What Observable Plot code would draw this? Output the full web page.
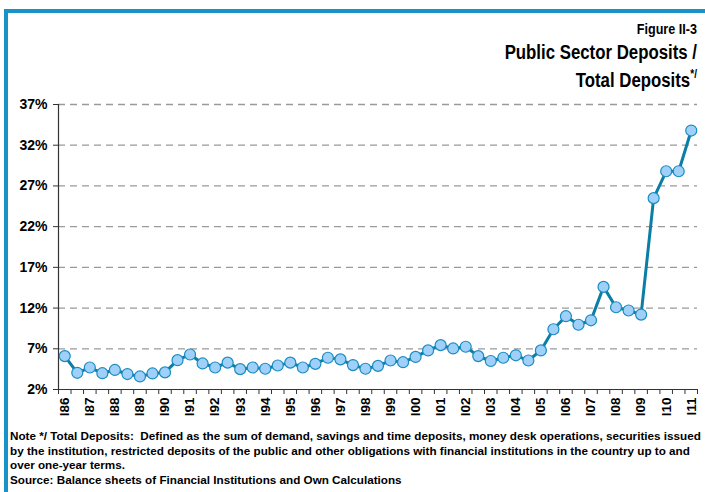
<!DOCTYPE html>
<html>
<head>
<meta charset="utf-8">
<script src="https://cdn.jsdelivr.net/npm/d3@7"></script>
<script src="https://cdn.jsdelivr.net/npm/@observablehq/plot@0.6"></script>
<style>
  html, body { margin: 0; padding: 0; background: #fff; }
  #page { position: relative; width: 705px; height: 492px; overflow: hidden; font-family: "Liberation Sans", Arial, sans-serif; color: #000; }
  #frame { position: absolute; left: 4px; top: 9px; width: 720px; height: 520px; border-top: 4px solid #1793c8; border-left: 4px solid #1793c8; box-sizing: border-box; }
  #title { position: absolute; right: 8px; top: 20px; text-align: right; font-family: "Liberation Sans", Arial, sans-serif; font-weight: bold; }
  #title div { transform: scaleX(0.84); transform-origin: right center; white-space: nowrap; }
  #title .fig { font-size: 15px; line-height: 18px; }
  #title .main { font-size: 20px; line-height: 28px; }
  #title sup { font-size: 12px; vertical-align: 0; position: relative; top: -9px; }
  #chart { position: absolute; left: 0; top: 95px; }
  #notes { position: absolute; left: 10px; top: 429px; font-size: 11.7px; font-weight: bold; line-height: 14.5px; white-space: pre; }
</style>
</head>
<body>
<div id="page">
  <div id="frame"></div>
  <div id="title">
    <div class="fig">Figure II-3</div>
    <div class="main">Public Sector Deposits /</div>
    <div class="main">Total Deposits<sup>*/</sup></div>
  </div>
  <div id="chart"></div>
  <div id="notes">Note */ Total Deposits:  Defined as the sum of demand, savings and time deposits, money desk operations, securities issued
by the institution, restricted deposits of the public and other obligations with financial institutions in the country up to and
over one-year terms.
Source: Balance sheets of Financial Institutions and Own Calculations</div>
</div>
<script>
// Semester periods: I86, II86, ..., I11
const years = ["86","87","88","89","90","91","92","93","94","95","96","97","98","99","00","01","02","03","04","05","06","07","08","09","10","11"];
const tickLabels = years.map(y => "I" + y);
// Public sector deposits / total deposits (%), one value per semester
const values = [
  6.1, 4.05,   // 86
  4.7, 4.0,    // 87
  4.4, 3.9,    // 88
  3.6, 3.97,   // 89
  4.1, 5.6,    // 90
  6.3, 5.2,    // 91
  4.7, 5.3,    // 92
  4.5, 4.7,    // 93
  4.55, 4.95,  // 94
  5.3, 4.7,    // 95
  5.15, 5.9,   // 96
  5.7, 5.0,    // 97
  4.55, 4.9,   // 98
  5.56, 5.35,  // 99
  6.0, 6.8,    // 00
  7.45, 7.04,  // 01
  7.25, 6.1,   // 02
  5.5, 5.9,    // 03
  6.2, 5.56,   // 04
  6.8, 9.4,    // 05
  11.0, 9.95,  // 06
  10.5, 14.6,  // 07
  12.1, 11.7,  // 08
  11.2, 25.5,  // 09
  28.8, 28.8,  // 10
  33.8         // 11
];
const yTicks = [2, 7, 12, 17, 22, 27, 32, 37];

const n = values.length;
const labelIdx = tickLabels.map((_, k) => 2 * k);
const boundaries = d3.range(n + 1).map(i => i - 0.5);

const plot = Plot.plot({
  width: 705,
  height: 335,
  marginLeft: 58,
  marginRight: 8,
  marginTop: 9,
  marginBottom: 41,
  style: { fontFamily: "'Liberation Sans', Arial, sans-serif", color: "#000", background: "transparent" },
  x: { type: "linear", domain: [-0.5, n - 0.5] },
  y: { domain: [2, 37] },
  marks: [
    Plot.gridY(yTicks.slice(1), { stroke: "#9a9a9a", strokeOpacity: 1, strokeWidth: 1.3, strokeDasharray: "7,5" }),
    Plot.axisY(yTicks, { tickSize: 5, tickPadding: 6, tickFormat: d => d + "%", fontSize: 14, fontWeight: "bold", label: null, stroke: "#333" }),
    Plot.axisX(boundaries, { tickSize: 5, tickFormat: () => "", label: null, stroke: "#333" }),
    Plot.axisX(labelIdx, { tickSize: 0, tickPadding: 8, tickRotate: -90, tickFormat: i => tickLabels[i / 2], fontSize: 13.5, fontWeight: "bold", label: null }),
    Plot.ruleX([-0.5], { stroke: "#333", strokeWidth: 1.2 }),
    Plot.ruleY([2], { stroke: "#333", strokeWidth: 1.2 }),
    Plot.line(values, { x: (d, i) => i, y: d => d, stroke: "#0b7ea6", strokeWidth: 3 }),
    Plot.dot(values, { x: (d, i) => i, y: d => d, r: 5.5, fill: "#9ed0fa", stroke: "#1a8cbf", strokeWidth: 1.2 })
  ]
});
document.getElementById("chart").appendChild(plot);
</script>
</body>
</html>
